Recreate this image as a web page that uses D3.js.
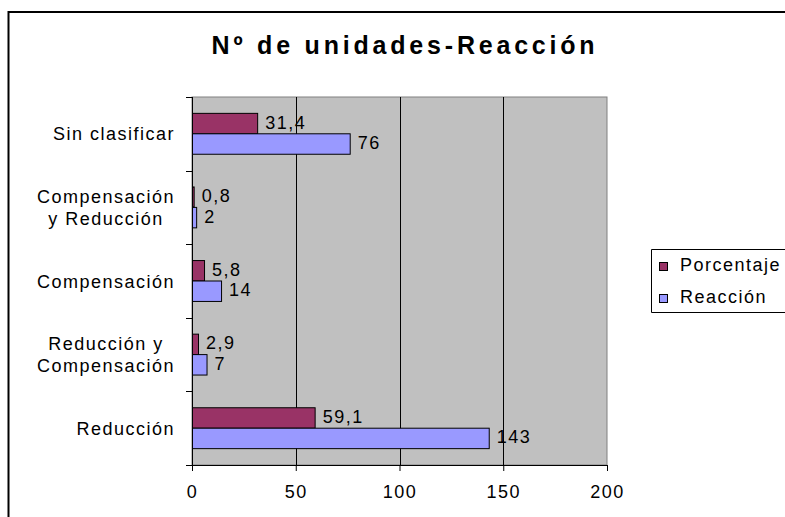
<!DOCTYPE html>
<html>
<head>
<meta charset="utf-8">
<script src="https://cdn.jsdelivr.net/npm/d3@7"></script>
<style>
    body { margin: 0; background: #fff; }
    #chart { width: 785px; height: 517px; }
    text { font-family: 'Liberation Sans', Arial, sans-serif; fill: #000; }
</style>
</head>
<body>
<div id="chart"></div>
<script>
//Datos (de arriba a abajo)
const categorias = [['Sin clasificar'], ['Compensación', 'y Reducción'], ['Compensación'], ['Reducción y', 'Compensación'], ['Reducción']];
const porcentaje = [31.4, 0.8, 5.8, 2.9, 59.1];
const reaccion = [76, 2, 14, 7, 143];
const series = ['Porcentaje', 'Reacción'];
const ticksX = [0, 50, 100, 150, 200];

//Colores fijos
const COLOR_PORC = '#993366',
COLOR_REAC = '#9999FF',
COLOR_FONDO = '#C0C0C0';

let margin = {top: 97, right: 178, bottom: 52, left: 192},
    width = 785 - margin.left - margin.right,
    height = 517 - margin.top - margin.bottom;

let root = d3.select('#chart')
    .append('svg')
    .attr('width', 785)
    .attr('height', 517);

//Marco exterior (se sale por derecha y abajo)
root.append('path')
    .attr('d', 'M8.5,517V12H785')
    .attr('fill', 'none')
    .attr('stroke', '#000')
    .attr('stroke-width', 2);

//Título
root.append('text')
    .attr('x', 405)
    .attr('y', 54)
    .attr('text-anchor', 'middle')
    .style('font-size', '25px')
    .style('font-weight', 'bold')
    .style('letter-spacing', '3.8px')
    .text('Nº de unidades-Reacción');

let svg = root.append('g')
    .attr('transform', 'translate(' + margin.left + ',' + margin.top + ')');

let data = categorias.map(function(c, i) {
    return {cat: c.join(' '), lineas: c, valores: [{key: 'Porcentaje', value: porcentaje[i]}, {key: 'Reacción', value: reaccion[i]}]};
});

let x = d3.scaleLinear()
    .domain([0, 200])
    .range([0, width]);

let y = d3.scaleBand()
    .domain(data.map(function(d) { return d.cat; }))
    .range([0, height]);

let ySubgroup = d3.scaleBand()
    .domain(series)
    .range([0, y.bandwidth()])
    .paddingInner(0)
    .paddingOuter(0.8);

let color = d3.scaleOrdinal()
    .domain(series)
    .range([COLOR_PORC, COLOR_REAC]);

//Fondo del área de trazado
svg.append('rect')
    .attr('x', 0)
    .attr('y', 0)
    .attr('width', width)
    .attr('height', height)
    .attr('fill', COLOR_FONDO)
    .attr('stroke', '#808080');

//Líneas de división
svg.append('g')
    .selectAll('line')
    .data(ticksX.slice(1, -1))
    .enter()
    .append('line')
    .attr('x1', function(d) { return Math.round(x(d)) + 0.5; })
    .attr('x2', function(d) { return Math.round(x(d)) + 0.5; })
    .attr('y1', 0)
    .attr('y2', height)
    .attr('stroke', '#000');

//Eje X
let xAxis = svg.append('g')
    .attr('transform', 'translate(0,' + height + ')')
    .call(d3.axisBottom(x).tickValues(ticksX).tickSize(6).tickPadding(14).tickFormat(d3.format('d')));
xAxis.selectAll('text')
    .style('font-size', '18px')
    .style('letter-spacing', '1.5px');
xAxis.selectAll('path, line').attr('stroke', '#000');

//Eje Y (marcas entre categorías)
let bordes = data.map(function(d) { return y(d.cat); }).concat([height]);
svg.append('line')
    .attr('x1', 0.5).attr('x2', 0.5)
    .attr('y1', 0).attr('y2', height)
    .attr('stroke', '#000');
svg.append('g')
    .selectAll('line')
    .data(bordes)
    .enter()
    .append('line')
    .attr('x1', -6)
    .attr('x2', 0)
    .attr('y1', function(d) { return Math.round(d) + 0.5; })
    .attr('y2', function(d) { return Math.round(d) + 0.5; })
    .attr('stroke', '#000');

//Etiquetas de categoría
let labels = svg.append('g')
    .selectAll('text')
    .data(data)
    .enter()
    .append('text')
    .style('font-size', '18px')
    .style('letter-spacing', '1.5px');

labels.each(function(d) {
    let t = d3.select(this);
    let centro = y(d.cat) + y.bandwidth() / 2;
    let n = d.lineas.length;
    d.lineas.forEach(function(l, j) {
        t.append('tspan')
            .attr('y', centro + 6.5 + (j - (n - 1) / 2) * 22)
            .text(l);
    });
    //Multilínea centrada, bloque alineado al eje
    let maxW = d3.max(t.selectAll('tspan').nodes(), function(s) { return s.getComputedTextLength(); });
    t.selectAll('tspan')
        .attr('x', -18.5 + 1.5 - maxW / 2)
        .attr('text-anchor', 'middle');
});

//Barras
let grupos = svg.append('g')
    .selectAll('g')
    .data(data)
    .enter()
    .append('g')
    .attr('transform', function(d) { return 'translate(0,' + y(d.cat) + ')'; });

grupos.selectAll('rect')
    .data(function(d) { return d.valores; })
    .enter()
    .append('rect')
    .attr('x', 0.5)
    .attr('y', function(d) { return ySubgroup(d.key); })
    .attr('width', function(d) { return x(d.value); })
    .attr('height', ySubgroup.bandwidth())
    .attr('fill', function(d) { return color(d.key); })
    .attr('stroke', '#000');

//Etiquetas de valor
let formato = d3.formatLocale({decimal: ',', thousands: '.', grouping: [3], currency: ['', '€']});
grupos.selectAll('text')
    .data(function(d) { return d.valores; })
    .enter()
    .append('text')
    .attr('x', function(d) { return x(d.value) + 8; })
    .attr('y', function(d) { return ySubgroup(d.key) + ySubgroup.bandwidth() / 2 + 5; })
    .style('font-size', '18px')
    .style('letter-spacing', '1.5px')
    .text(function(d) { return d.key == 'Porcentaje' ? formato.format('.1f')(d.value) : formato.format('d')(d.value); });

//Leyenda (se corta en el borde derecho)
root.append('path')
    .attr('d', 'M785,249.5H651.5V312.5H785')
    .attr('fill', 'none')
    .attr('stroke', '#000');

let leyenda = root.append('g')
    .selectAll('g')
    .data(series)
    .enter()
    .append('g')
    .attr('transform', function(d, i) { return 'translate(659,' + (262 + i * 32) + ')'; });

leyenda.append('rect')
    .attr('x', 0.5)
    .attr('y', 0.5)
    .attr('width', 8)
    .attr('height', 8)
    .attr('fill', function(d) { return color(d); })
    .attr('stroke', '#000');

leyenda.append('text')
    .attr('x', 21)
    .attr('y', 9)
    .style('font-size', '18px')
    .style('letter-spacing', '1.5px')
    .text(function(d) { return d; });
</script>
</body>
</html>
